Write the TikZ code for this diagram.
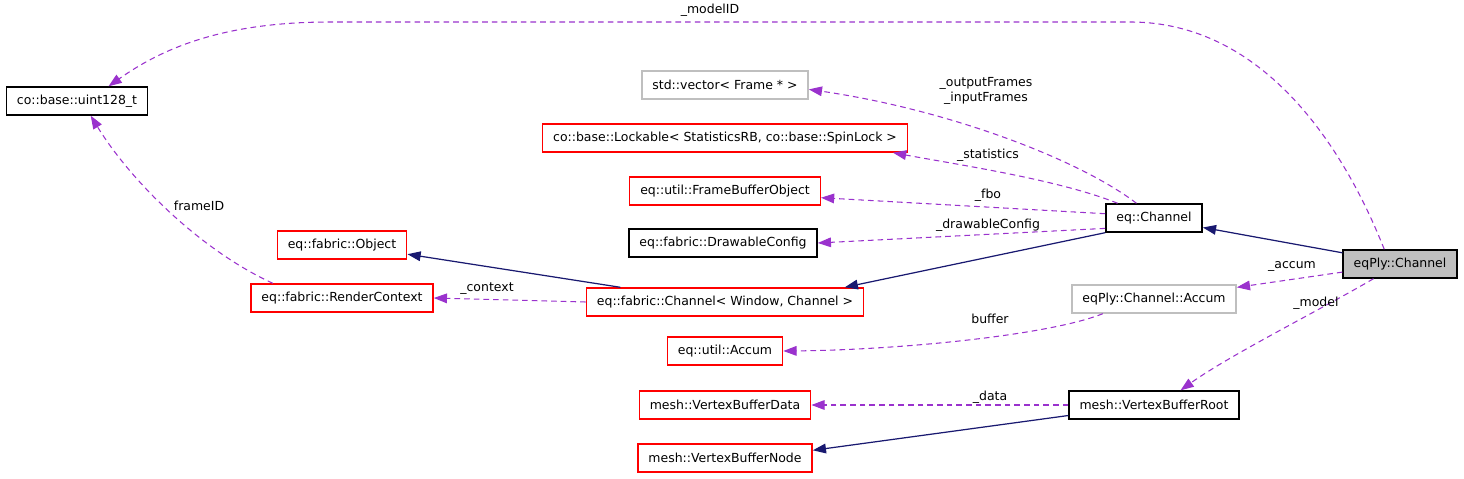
\documentclass[tikz,border=0pt]{standalone}
\usepackage{fontspec}
\setmainfont{DejaVu Sans}
\usetikzlibrary{arrows.meta}
\definecolor{usesline}{HTML}{9A32CD}
\definecolor{inheritline}{HTML}{191970}
\definecolor{undocborder}{HTML}{FF0000}
\definecolor{extborder}{HTML}{BFBFBF}
\definecolor{selfbg}{HTML}{BFBFBF}

\begin{document}
\begin{tikzpicture}[
  x=0.02cm, y=-0.02cm, >=Triangle,
  cls/.style={draw=black, fill=white, line width=0.8pt, font=\fontsize{7.1}{8.5}\selectfont, inner xsep=6pt, minimum height=0.56cm},
  undoc/.style={cls, draw=undocborder},
  ext/.style={cls, draw=extborder},
  self/.style={cls, fill=selfbg},
  uses/.style={draw=usesline, line width=0.6pt, dash pattern=on 3.2pt off 2.3pt, -{Triangle[length=7.5pt, width=5.5pt]}},
  inherit/.style={draw=inheritline, line width=0.7pt, -{Triangle[length=7.5pt, width=5.5pt]}},
  lbl/.style={font=\fontsize{7.1}{8.5}\selectfont, inner sep=1pt}
]

  \useasboundingbox (0,0) rectangle (1464,479);

  % Class Boxes
  \node[self] (eqplychan) at (1400, 264) {eqPly::Channel};
  \node[cls] (eqchan) at (1154, 218) {eq::Channel};
  \node[cls] (uint) at (77, 101) {co::base::uint128\_t};
  \node[ext] (vec) at (725, 85) {std::vector< Frame * >};
  \node[undoc] (lock) at (725, 138) {co::base::Lockable< StatisticsRB, co::base::SpinLock >};
  \node[undoc] (fbo) at (725, 191) {eq::util::FrameBufferObject};
  \node[cls] (dcfg) at (723, 243) {eq::fabric::DrawableConfig};
  \node[undoc] (obj) at (342, 245) {eq::fabric::Object};
  \node[undoc] (rctx) at (342, 298) {eq::fabric::RenderContext};
  \node[undoc] (fchan) at (725, 302) {eq::fabric::Channel< Window, Channel >};
  \node[ext] (acc) at (1154, 299) {eqPly::Channel::Accum};
  \node[undoc] (uacc) at (725, 351) {eq::util::Accum};
  \node[cls] (vbroot) at (1154, 405) {mesh::VertexBufferRoot};
  \node[undoc] (vbdata) at (725, 405) {mesh::VertexBufferData};
  \node[undoc] (vbnode) at (725, 458) {mesh::VertexBufferNode};

  % Inheritance
  \draw[inherit] (eqplychan.169) -- (eqchan.-11);
  \draw[inherit] (eqchan.south west) -- (fchan.7);
  \draw[inherit] (fchan.172) -- (obj.-8);
  \draw[inherit] (vbroot.187) -- (vbnode.5);

  % Usage (members)
  \draw[uses] (eqplychan.137) .. controls (1345,150) and (1265,22) .. (1130,22)
    -- (330,22) .. controls (220,22) and (160,50) .. (uint.25);
  \node[lbl] (lmodelid) at (710, 10) {\_modelID};

  \draw[uses] (eqchan.140) .. controls (1080,160) and (950,110) .. (vec.-3);
  \node[lbl, align=center] (lframes) at (986, 91) {\_outputFrames\\\_inputFrames};

  \draw[uses] (eqchan.158) .. controls (1060,180) and (960,165) .. (lock.-5.8);
  \node[lbl] (lstats) at (988, 155) {\_statistics};

  \draw[uses] (eqchan.175) -- (fbo.-4);
  \node[lbl] (lfbo) at (988, 195) {\_fbo};

  \draw[uses] (eqchan.192) -- (dcfg.east);
  \node[lbl] (ldcfg) at (988, 225) {\_drawableConfig};

  \draw[uses] (fchan.west) -- (rctx.east);
  \node[lbl] (lctx) at (487, 289) {\_context};

  \draw[uses] (rctx.168) .. controls (200,250) and (130,180) .. (uint.-47);
  \node[lbl] (lframeid) at (199, 206) {frameID};

  \draw[uses] (eqplychan.188) -- (acc.8);
  \node[lbl] (laccum) at (1292, 266) {\_accum};

  \draw[uses] (eqplychan.-151) .. controls (1320,310) and (1230,355) .. (vbroot.29);
  \node[lbl] (lmodel) at (1316, 303) {\_model};

  \draw[uses] (acc.196) .. controls (1050,335) and (900,350) .. (uacc.east);
  \node[lbl] (lbuffer) at (990, 319) {buffer};

  \draw[uses] (vbroot.west) -- (vbdata.east);
  \node[lbl] (ldata) at (990, 397) {\_data};

\end{tikzpicture}
\end{document}
